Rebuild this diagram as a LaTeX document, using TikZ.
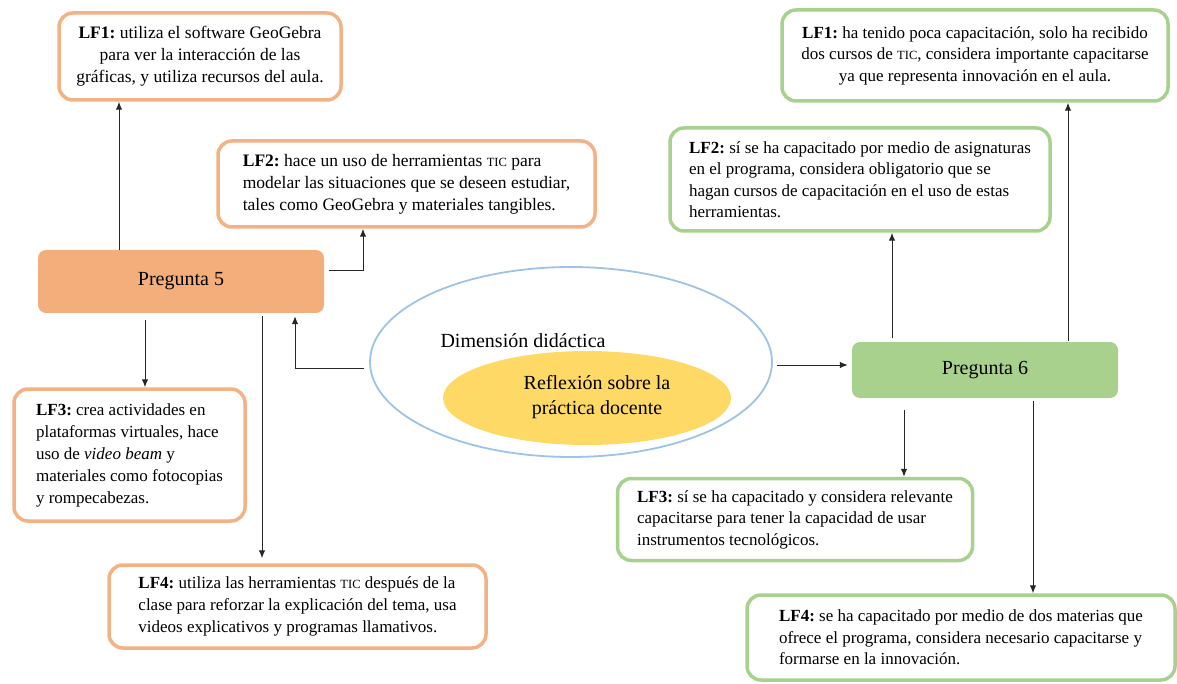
\documentclass[tikz,border=0pt]{standalone}
\usepackage{fontspec}
\setmainfont{Liberation Serif}
\usepackage{tikz}
\usetikzlibrary{arrows.meta}
\usetikzlibrary{shapes.geometric}
\definecolor{naranja}{HTML}{F4B183}
\definecolor{naranjafill}{HTML}{F4AE7B}
\definecolor{verde}{HTML}{A9D18E}
\definecolor{azul}{HTML}{9DC3E6}
\definecolor{amarillo}{HTML}{FFD966}
\newcommand{\tic}{{\fontsize{12.5}{22}\selectfont TIC}}
\frenchspacing

\begin{document}
\begin{tikzpicture}[x=1pt, y=-1pt]
    \tikzset{lfa/.style = {shape=rectangle, draw=naranja, line width=3.5pt, rounded corners=14pt, fill=white, align=left, font=\fontsize{17}{22}\selectfont}}
    \tikzset{lfb/.style = {lfa, draw=verde, font=\fontsize{17}{21.5}\selectfont}}
    \tikzset{preg/.style = {shape=rectangle, rounded corners=8pt, font=\fontsize{20}{24}\selectfont}}
    \tikzset{edge/.style = {-{Latex[length=8pt,width=6.5pt]}, line width=1pt, draw=black!85}}
    \useasboundingbox (0,0) rectangle (1177,684);

    % centro
    \node[ellipse, draw=azul, line width=1.8pt, minimum width=402, minimum height=190] (dim) at (571,362) {};
    \node[ellipse, fill=amarillo, minimum width=288, minimum height=94] (refl) at (587,398) {};
    \node[font=\fontsize{20}{24}\selectfont] (dimtxt) at (523,341) {Dimensión didáctica};
    \node[font=\fontsize{20}{25}\selectfont, align=center] (refltxt) at (597,397) {Reflexión sobre la\\práctica docente};

    % preguntas
    \node[preg, fill=naranjafill, minimum width=286, minimum height=63] (p5) at (181,281.5) {Pregunta 5};
    \node[preg, fill=verde, minimum width=266, minimum height=56] (p6) at (985,370) {Pregunta 6};

    % respuestas pregunta 5
    \node[lfa, align=center, font=\fontsize{17.5}{22}\selectfont, minimum width=282, minimum height=87] (lfa1) at (200,56.5)
      {\textbf{LF1:} utiliza el software GeoGebra\\para ver la interacción de las\\gráficas, y utiliza recursos del aula.};
    \node[lfa, font=\fontsize{17.5}{22}\selectfont, minimum width=377, minimum height=86] (lfa2) at (406.5,184)
      {\textbf{LF2:} hace un uso de herramientas \tic{} para\\modelar las situaciones que se deseen estudiar,\\tales como GeoGebra y materiales tangibles.};
    \node[lfa, minimum width=231, minimum height=132] (lfa3) at (129.5,455)
      {\textbf{LF3:} crea actividades en\\plataformas virtuales, hace\\uso de \textit{video beam} y\\materiales como fotocopias\\y rompecabezas.};
    \node[lfa, minimum width=377, minimum height=83] (lfa4) at (297.5,606.5)
      {\textbf{LF4:} utiliza las herramientas \tic{} después de la\\clase para reforzar la explicación del tema, usa\\videos explicativos y programas llamativos.};

    % respuestas pregunta 6
    \node[lfb, align=center, minimum width=386, minimum height=91] (lfb1) at (975,55.5)
      {\textbf{LF1:} ha tenido poca capacitación, solo ha recibido\\dos cursos de \tic, considera importante capacitarse\\ya que representa innovación en el aula.};
    \node[lfb, minimum width=380, minimum height=103] (lfb2) at (860,179.5)
      {\textbf{LF2:} sí se ha capacitado por medio de asignaturas\\en el programa, considera obligatorio que se\\hagan cursos de capacitación en el uso de estas\\herramientas.};
    \node[lfb, minimum width=355, minimum height=82] (lfb3) at (795,519.5)
      {\textbf{LF3:} sí se ha capacitado y considera relevante\\capacitarse para tener la capacidad de usar\\instrumentos tecnológicos.};
    \node[lfb, minimum width=428, minimum height=85] (lfb4) at (961,637.5)
      {\textbf{LF4:} se ha capacitado por medio de dos materias que\\ofrece el programa, considera necesario capacitarse y\\formarse en la innovación.};

    % flechas
    \coordinate (a1) at ([xshift=-62pt]p5.north);
    \coordinate (a3) at ([shift={(-36pt,-7pt)}]p5.south);
    \coordinate (a4) at ([shift={(81pt,-3pt)}]p5.south);
    \coordinate (b1) at ([shift={(83pt,1pt)}]p6.north);
    \coordinate (b2) at ([shift={(-93pt,4pt)}]p6.north);
    \coordinate (b3) at ([shift={(-81pt,-12pt)}]p6.south);
    \coordinate (b4) at ([shift={(48pt,-3pt)}]p6.south);
    \coordinate (d1) at ([shift={(-5pt,-6pt)}]dim.west);
    \coordinate (d2) at ([shift={(4pt,-3pt)}]dim.east);

    \draw[edge] (a1) -- (a1 |- lfa1.south);
    \draw[edge] ([shift={(5pt,11pt)}]p5.east) -| ([xshift=-43.5pt]lfa2.south);
    \draw[edge] (a3) -- (a3 |- lfa3.north);
    \draw[edge, shorten >=5pt] (a4) -- (a4 |- lfa4.north);
    \draw[edge] (d1) -| ([shift={(114pt,-3pt)}]p5.south);
    \draw[edge, shorten >=4pt] (d2) -- (d2 -| p6.west);
    \draw[edge] (b1) -- (b1 |- lfb1.south);
    \draw[edge] (b2) -- (b2 |- lfb2.south);
    \draw[edge] (b3) -- (b3 |- lfb3.north);
    \draw[edge] (b4) -- (b4 |- lfb4.north);
  \end{tikzpicture}
\end{document}
